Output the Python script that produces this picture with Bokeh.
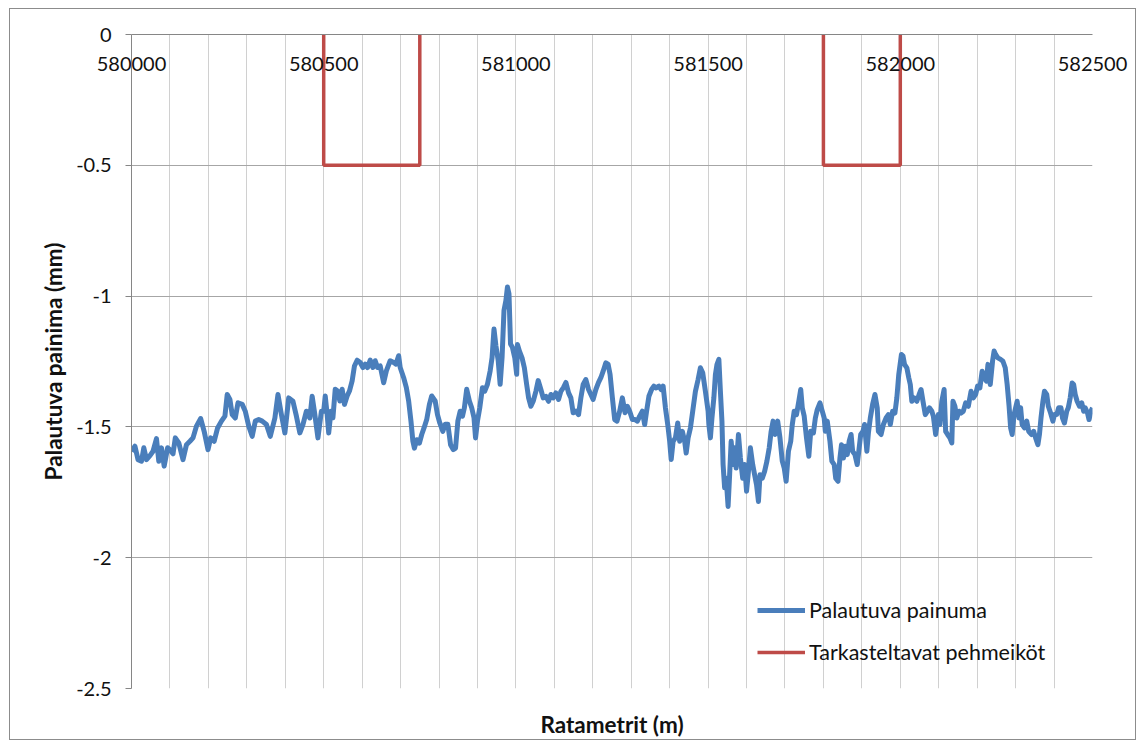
import numpy as np
from bokeh.plotting import figure
from bokeh.models import (Range1d, FixedTicker, CustomJSTickFormatter, LinearAxis,
                          Legend, LegendItem)
from bokeh.embed import file_html
from bokeh.resources import INLINE

# ---------------- data ----------------
ratametrit = [
    580000, 580009, 580017, 580026, 580032, 580039, 580048, 580056, 580065, 580071,
    580078, 580085, 580094, 580100, 580108, 580114, 580123, 580134, 580143, 580152,
    580160, 580169, 580180, 580189, 580199, 580206, 580215, 580224, 580234, 580243,
    580249, 580256, 580262, 580270, 580277, 580288, 580296, 580305, 580314, 580322,
    580331, 580340, 580351, 580361, 580373, 580381, 580390, 580399, 580409, 580420,
    580429, 580438, 580446, 580455, 580464, 580470, 580477, 580485, 580494,
    580500, 580504, 580509, 580513, 580519, 580524, 580530, 580536, 580542, 580548,
    580554, 580561, 580567, 580574, 580580, 580587, 580595, 580602, 580608, 580614,
    580621, 580628, 580634, 580640, 580647, 580656, 580663, 580673, 580682, 580688,
    580695, 580699, 580708, 580715, 580721, 580727, 580732, 580736, 580742, 580749,
    580755, 580761, 580768, 580775, 580781, 580790, 580796, 580802, 580810, 580816,
    580823, 580830, 580837, 580843, 580849, 580855, 580861, 580866, 580872, 580879,
    580885, 580891, 580895, 580900, 580906, 580913, 580919, 580926, 580933, 580938,
    580943, 580948, 580954, 580959, 580964, 580969, 580974, 580978, 580982, 580986,
    580991, 580997, 581002,
    581004, 581009, 581016, 581022, 581028, 581033, 581039, 581045, 581052, 581058,
    581065, 581071, 581078, 581085, 581091, 581097, 581104, 581111, 581117, 581124,
    581130, 581137, 581143, 581149, 581156, 581163, 581169, 581175, 581182, 581189,
    581195, 581201, 581208, 581215, 581221, 581227, 581234, 581240, 581245, 581251,
    581257, 581263, 581270, 581277, 581284, 581290, 581296, 581303, 581310, 581316,
    581322, 581329, 581335, 581340, 581346, 581353, 581359, 581365, 581372, 581378,
    581383, 581389, 581395, 581400, 581404, 581409, 581415, 581421, 581426, 581433,
    581439, 581443, 581448, 581454, 581460, 581467, 581474, 581480, 581486, 581493,
    581500,
    581502, 581506, 581510, 581515, 581519, 581523, 581528, 581532, 581536, 581539,
    581543, 581547, 581552, 581556, 581560, 581565, 581569, 581573, 581579, 581584,
    581590, 581595, 581600, 581605, 581610, 581616, 581621, 581626, 581631, 581635,
    581641, 581647, 581653, 581659, 581664, 581669, 581674, 581681, 581687, 581693,
    581698, 581703, 581709, 581715, 581719, 581724, 581730, 581736, 581741, 581745,
    581750, 581756, 581762, 581767, 581774, 581779, 581784, 581791, 581797, 581802,
    581805, 581810, 581817, 581822, 581828, 581832, 581838, 581843, 581847, 581852,
    581857, 581862, 581867, 581872, 581876, 581882, 581888, 581892, 581897, 581903,
    581907, 581913, 581917, 581922, 581928, 581934, 581940, 581943, 581950, 581956,
    581963, 581969, 581974, 581980, 581986,
    581991, 581996, 582003, 582007, 582011, 582017, 582022, 582026, 582030, 582036,
    582043, 582049, 582054, 582059, 582065, 582071, 582076, 582082, 582086, 582092,
    582099, 582103, 582108, 582114, 582118, 582123, 582129, 582134, 582137, 582142,
    582147, 582153, 582158, 582164, 582170, 582177, 582184, 582190, 582196, 582201,
    582207, 582213, 582218, 582224, 582228, 582234, 582240, 582244, 582248, 582254,
    582261, 582267, 582273, 582278, 582283, 582287, 582291, 582296, 582300, 582304,
    582309, 582313, 582317, 582323, 582329, 582334, 582341, 582347, 582352, 582358,
    582362, 582366, 582371, 582375, 582381, 582385, 582391, 582397, 582401, 582407,
    582412, 582418, 582422, 582427, 582433, 582437, 582442, 582447, 582451, 582455,
    582460, 582466, 582472, 582477, 582481, 582487, 582491, 582496, 582500,
]
palautuva_painuma = [
    -1.593, -1.574, -1.625, -1.631, -1.580, -1.625, -1.610, -1.593, -1.545, -1.631,
    -1.580, -1.650, -1.580, -1.587, -1.603, -1.542, -1.561, -1.625, -1.568, -1.555,
    -1.542, -1.497, -1.468, -1.517, -1.587, -1.542, -1.555, -1.504, -1.478, -1.459,
    -1.376, -1.395, -1.453, -1.466, -1.408, -1.414, -1.440, -1.497, -1.536, -1.478,
    -1.472, -1.478, -1.491, -1.536, -1.466, -1.376, -1.453, -1.523, -1.389, -1.402,
    -1.459, -1.523, -1.491, -1.440, -1.466, -1.383, -1.453, -1.542, -1.440,
    -1.440, -1.382, -1.453, -1.523, -1.440, -1.465, -1.356, -1.363, -1.401, -1.356,
    -1.414, -1.382, -1.363, -1.324, -1.267, -1.245, -1.254, -1.273, -1.260, -1.273,
    -1.245, -1.273, -1.247, -1.273, -1.267, -1.331, -1.286, -1.247, -1.254, -1.260,
    -1.228, -1.273, -1.312, -1.350, -1.401, -1.478, -1.555, -1.581, -1.549, -1.562,
    -1.529, -1.504, -1.472, -1.414, -1.382, -1.401, -1.453, -1.485, -1.517, -1.490,
    -1.490, -1.568, -1.587, -1.581, -1.478, -1.440, -1.459, -1.427, -1.356, -1.401,
    -1.427, -1.465, -1.542, -1.478, -1.427, -1.350, -1.363, -1.337, -1.286, -1.235,
    -1.126, -1.190, -1.247, -1.337, -1.235, -1.055, -1.017, -0.965, -0.991, -1.183,
    -1.196, -1.235, -1.299,
    -1.185, -1.210, -1.236, -1.274, -1.338, -1.389, -1.421, -1.402, -1.364, -1.323,
    -1.357, -1.389, -1.383, -1.402, -1.376, -1.389, -1.370, -1.395, -1.364, -1.349,
    -1.330, -1.370, -1.389, -1.446, -1.440, -1.453, -1.389, -1.338, -1.319, -1.357,
    -1.376, -1.395, -1.357, -1.330, -1.312, -1.287, -1.255, -1.261, -1.300, -1.389,
    -1.472, -1.478, -1.440, -1.389, -1.446, -1.421, -1.440, -1.472, -1.472, -1.478,
    -1.459, -1.440, -1.491, -1.440, -1.383, -1.357, -1.344, -1.351, -1.344, -1.357,
    -1.344, -1.427, -1.491, -1.555, -1.625, -1.555, -1.542, -1.485, -1.555, -1.517,
    -1.555, -1.600, -1.542, -1.504, -1.440, -1.364, -1.319, -1.274, -1.293, -1.364,
    -1.440,
    -1.491, -1.542, -1.466, -1.389, -1.300, -1.262, -1.242, -1.364, -1.478, -1.644,
    -1.733, -1.696, -1.804, -1.683, -1.555, -1.644, -1.580, -1.657, -1.529, -1.619,
    -1.696, -1.644, -1.746, -1.670, -1.580, -1.644, -1.683, -1.721, -1.785, -1.683,
    -1.696, -1.670, -1.631, -1.580, -1.517, -1.478, -1.529, -1.478, -1.542, -1.631,
    -1.657, -1.708, -1.593, -1.555, -1.491, -1.440, -1.453, -1.402, -1.357, -1.427,
    -1.459, -1.542, -1.612, -1.517, -1.523, -1.466, -1.434, -1.408, -1.440, -1.466,
    -1.517, -1.478, -1.555, -1.631, -1.644, -1.696, -1.708, -1.619, -1.568, -1.619,
    -1.574, -1.606, -1.555, -1.529, -1.593, -1.606, -1.644, -1.593, -1.529, -1.517,
    -1.491, -1.593, -1.523, -1.466, -1.414, -1.376, -1.427, -1.517, -1.529, -1.491,
    -1.466, -1.453, -1.491, -1.440, -1.447,
    -1.389, -1.300, -1.223, -1.229, -1.261, -1.274, -1.312, -1.338, -1.402, -1.389,
    -1.402, -1.376, -1.357, -1.402, -1.453, -1.440, -1.427, -1.440, -1.459, -1.529,
    -1.453, -1.491, -1.402, -1.357, -1.517, -1.529, -1.542, -1.561, -1.402, -1.421,
    -1.466, -1.440, -1.447, -1.440, -1.408, -1.421, -1.364, -1.389, -1.376, -1.344,
    -1.351, -1.287, -1.312, -1.325, -1.261, -1.338, -1.249, -1.210, -1.223, -1.236,
    -1.242, -1.249, -1.274, -1.338, -1.421, -1.504, -1.529, -1.453, -1.427, -1.402,
    -1.466, -1.427, -1.491, -1.504, -1.478, -1.517, -1.529, -1.517, -1.542, -1.568,
    -1.529, -1.466, -1.402, -1.364, -1.376, -1.421, -1.447, -1.478, -1.453, -1.453,
    -1.427, -1.427, -1.466, -1.485, -1.440, -1.427, -1.389, -1.332, -1.338, -1.376,
    -1.402, -1.421, -1.408, -1.440, -1.427, -1.447, -1.472, -1.440, -1.427,
]
pehmeikot_x = [580500, 580500, 580750, 580750, np.nan, 581800, 581800, 582000, 582000]
pehmeikot_y = [0.0, -0.5, -0.5, 0.0, np.nan, 0.0, -0.5, -0.5, 0.0]

x_ticks = [580000, 580500, 581000, 581500, 582000, 582500]
x_grid = list(range(580000, 582501, 100))
y_ticks = [0, -0.5, -1, -1.5, -2, -2.5]

FONT = "Lato"
BLUE = "#4A7EBB"
RED = "#BE4B48"
TXT = "#111111"

p = figure(width=1127, height=732, output_backend="svg", toolbar_location=None,
           x_range=Range1d(580000, 582500), y_range=Range1d(-2.5, 0),
           x_axis_location="above",
           min_border_left=121, min_border_right=45, min_border_top=25, min_border_bottom=53)
p.outline_line_color = None
p.styles = {"border": "1px solid #8c8c8c", "margin-left": "9px", "margin-top": "8px"}

fmt = CustomJSTickFormatter(code="return tick.toString();")

# top x axis (labels drawn inside the frame, as in the original)
xa = p.xaxis[0]
xa.ticker = FixedTicker(ticks=x_ticks)
xa.formatter = fmt
xa.axis_line_color = "#868686"
xa.major_tick_line_color = None
xa.minor_tick_line_color = None
xa.major_label_standoff = -42
xa.major_label_text_font = FONT
xa.major_label_text_font_size = "20px"
xa.major_label_text_color = TXT

# bottom axis only carries the title
xb = LinearAxis(ticker=FixedTicker(ticks=[]), axis_label="Ratametrit (m)",
                axis_line_color=None, major_tick_line_color=None, minor_tick_line_color=None,
                major_label_standoff=0, axis_label_standoff=22,
                axis_label_text_font=FONT, axis_label_text_font_style="bold",
                axis_label_text_font_size="22.5px", axis_label_text_color=TXT)
p.add_layout(xb, "below")

ya = p.yaxis[0]
ya.ticker = FixedTicker(ticks=y_ticks)
ya.formatter = fmt
ya.axis_line_color = "#868686"
ya.major_tick_line_color = "#868686"
ya.major_tick_out = 6
ya.major_tick_in = 0
ya.minor_tick_line_color = None
ya.major_label_standoff = 14
ya.major_label_text_font = FONT
ya.major_label_text_font_size = "20px"
ya.major_label_text_color = TXT
ya.axis_label = "Palautuva painima (mm)"
ya.axis_label_text_font = FONT
ya.axis_label_text_font_style = "bold"
ya.axis_label_text_font_size = "22.5px"
ya.axis_label_text_color = TXT
ya.axis_label_standoff = 6

p.xgrid.ticker = FixedTicker(ticks=x_grid)
p.xgrid.grid_line_color = "#d0d0d0"
p.xgrid.grid_line_width = 1
p.ygrid.ticker = FixedTicker(ticks=y_ticks)
p.ygrid.grid_line_color = "#a6a6a6"
p.ygrid.grid_line_width = 1

r_blue = p.line(ratametrit, palautuva_painuma, line_color=BLUE, line_width=5, line_join="round")
r_red = p.line(np.array(pehmeikot_x), np.array(pehmeikot_y), line_color=RED, line_width=3.5)

legend = Legend(items=[LegendItem(label="Palautuva painuma", renderers=[r_blue]),
                       LegendItem(label="Tarkasteltavat pehmeiköt", renderers=[r_red])],
                location=(626, 23), orientation="vertical",
                background_fill_alpha=0, border_line_color=None,
                padding=0, margin=0, spacing=16,
                glyph_width=48, glyph_height=20, label_height=20, label_standoff=4,
                label_text_font=FONT, label_text_font_size="21.5px", label_text_color=TXT)
p.add_layout(legend, "center")

open("out.html", "w").write(file_html(p, INLINE))
